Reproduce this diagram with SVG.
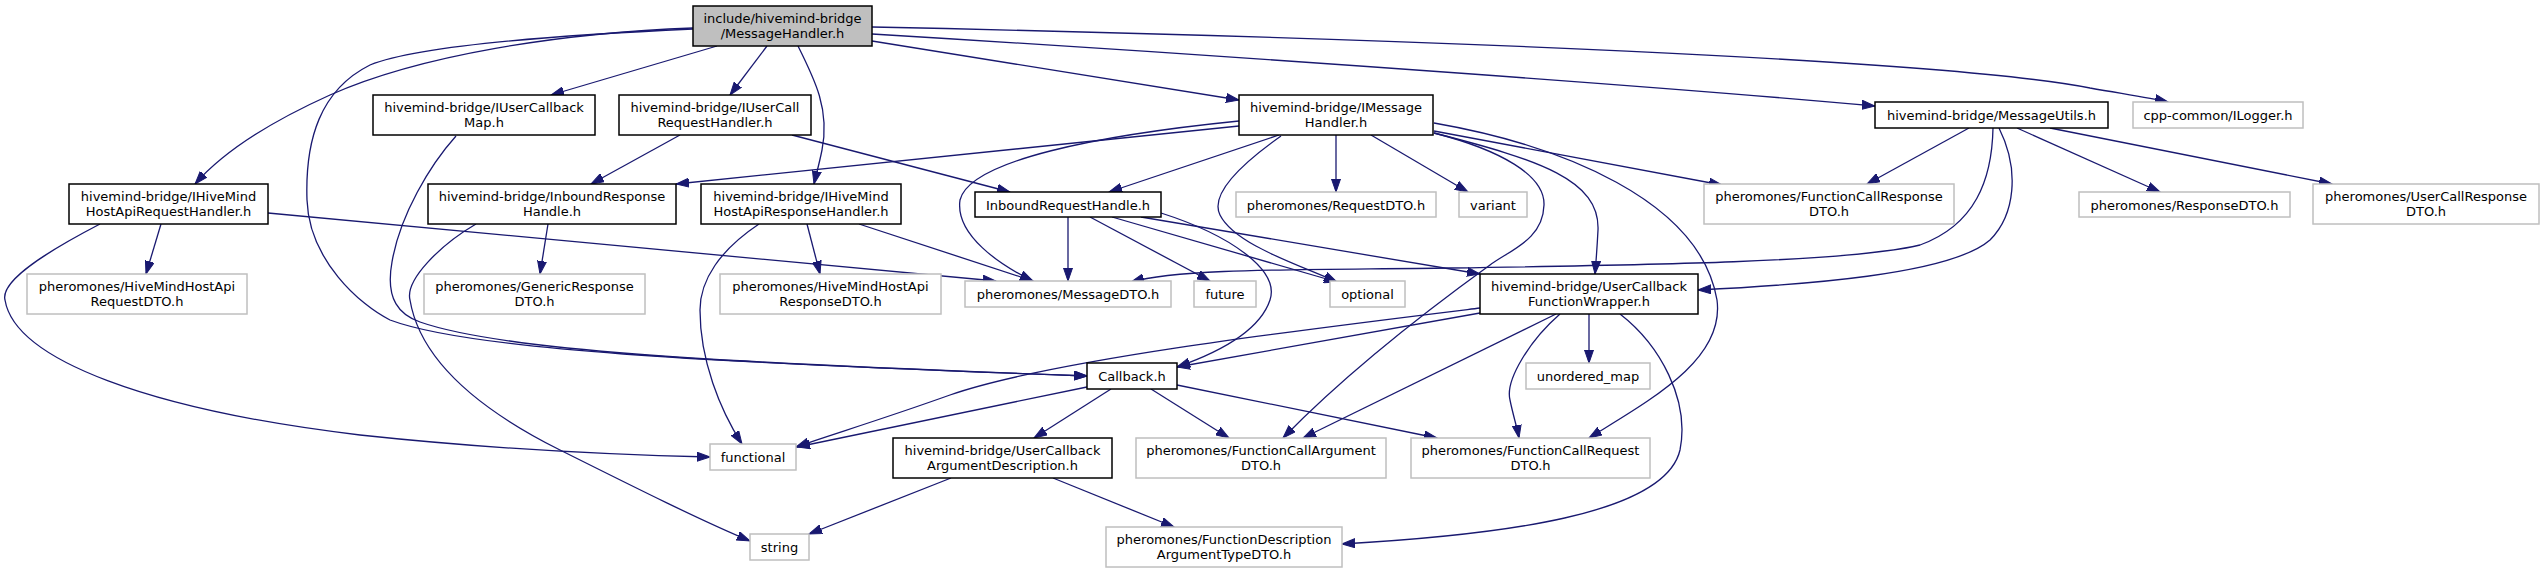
<svg xmlns="http://www.w3.org/2000/svg" width="2544" height="573" viewBox="0 0 2544 573">
<defs>
<marker id="a" markerUnits="userSpaceOnUse" markerWidth="14" markerHeight="10" refX="13" refY="5" orient="auto" viewBox="0 0 14 10"><path d="M0,0.5 L13,5 L0,9.5 z" fill="#191970" stroke="#191970" stroke-width="1"/></marker>
<style>
.n rect{fill:#fff;stroke:#000;stroke-width:1.5}
.g rect{fill:#fff;stroke:#bfbfbf;stroke-width:1.5}
.m rect{fill:#bfbfbf;stroke:#000;stroke-width:1.5}
text{font-family:"DejaVu Sans",sans-serif;font-size:13px;fill:#000;text-anchor:middle}
#edges path{fill:none;stroke:#191970;stroke-width:1.3;marker-end:url(#a)}
</style>
</defs>
<rect width="2544" height="573" fill="#fff"/>
<g id="edges">
<path d="M693,28 C560,33 420,55 330,95 C270,122 225,150 195,184"/>
<path d="M693,29 C560,35 420,45 370,65 C320,90 305,140 307,200 C309,260 360,305 390,320 C470,350 700,362 1087,376"/>
<path d="M456,136 C430,165 400,215 392,262 C385,300 400,315 420,322 C500,350 700,362 1087,376"/>
<path d="M717,46 L551,95"/>
<path d="M767,46 L730,95"/>
<path d="M798,46 C815,80 830,110 822,150 C819,165 816,175 814,184"/>
<path d="M872,41 L1239,100"/>
<path d="M872,34 C1300,60 1700,90 1875,106"/>
<path d="M872,27 C1400,38 1950,60 2090,88 C2130,95 2150,98 2168,102"/>
<path d="M680,135 L591,184"/>
<path d="M792,135 L1010,192"/>
<path d="M1239,126 L676,184"/>
<path d="M1279,135 L1109,192"/>
<path d="M1239,121 C1100,135 970,160 960,200 C955,235 1000,265 1033,281"/>
<path d="M1336,135 L1336,192"/>
<path d="M1371,135 L1468,192"/>
<path d="M1281,136 C1240,165 1210,195 1220,215 C1235,245 1300,265 1337,282"/>
<path d="M1434,133 C1540,160 1600,180 1598,230 C1597,250 1596,262 1595,274"/>
<path d="M1434,131 L1722,185"/>
<path d="M1434,133 C1500,150 1545,175 1544,205 C1543,240 1510,250 1490,265 C1400,330 1330,390 1283,438"/>
<path d="M1434,123 C1560,145 1700,200 1717,300 C1725,360 1650,400 1589,438"/>
<path d="M1969,128 L1867,184"/>
<path d="M2017,128 L2160,192"/>
<path d="M2050,128 L2332,184"/>
<path d="M1999,128 C2020,170 2015,215 1990,240 C1950,275 1800,285 1698,290"/>
<path d="M1993,128 C1992,180 1975,225 1920,245 C1850,262 1650,265 1450,268 C1300,270 1180,268 1131,282"/>
<path d="M161,224 L146,274"/>
<path d="M100,224 C50,250 0,280 5,300 C15,360 150,410 360,435 C500,450 620,455 710,457"/>
<path d="M268,213 L996,281"/>
<path d="M548,224 L540,274"/>
<path d="M476,224 C440,245 405,280 410,300 C420,360 480,410 560,450 C640,490 700,520 750,541"/>
<path d="M807,224 L820,274"/>
<path d="M859,224 L1033,281"/>
<path d="M759,224 C720,250 700,280 700,310 C700,360 720,410 742,444"/>
<path d="M1068,217 L1068,281"/>
<path d="M1090,217 L1210,281"/>
<path d="M1112,217 L1337,282"/>
<path d="M1141,217 L1480,274"/>
<path d="M1161,213 C1230,235 1280,270 1270,300 C1260,330 1220,352 1177,367"/>
<path d="M1480,313 L1177,367"/>
<path d="M1480,308 C1300,330 1050,360 950,395 C880,420 830,435 796,447"/>
<path d="M1589,314 L1589,363"/>
<path d="M1556,314 L1303,438"/>
<path d="M1560,314 C1530,340 1505,380 1510,400 C1513,415 1517,427 1519,438"/>
<path d="M1620,314 C1660,345 1690,400 1680,450 C1665,515 1500,535 1342,544"/>
<path d="M1087,387 L797,447"/>
<path d="M1111,389 L1034,438"/>
<path d="M1151,389 L1229,438"/>
<path d="M1177,385 L1437,438"/>
<path d="M951,478 L809,534"/>
<path d="M1053,478 L1174,527"/>
</g>
<g id="n0" class="m"><rect x="693" y="6" width="179" height="40"/><text x="782.5" y="23">include/hivemind-bridge</text><text x="782.5" y="38">/MessageHandler.h</text></g>
<g id="n1" class="n"><rect x="373" y="95" width="222" height="40"/><text x="484" y="112">hivemind-bridge/IUserCallback</text><text x="484" y="127">Map.h</text></g>
<g id="n2" class="n"><rect x="619" y="95" width="192" height="40"/><text x="715" y="112">hivemind-bridge/IUserCall</text><text x="715" y="127">RequestHandler.h</text></g>
<g id="n3" class="n"><rect x="1239" y="95" width="194" height="40"/><text x="1336" y="112">hivemind-bridge/IMessage</text><text x="1336" y="127">Handler.h</text></g>
<g id="n4" class="n"><rect x="1875" y="102" width="233" height="26"/><text x="1991.5" y="120">hivemind-bridge/MessageUtils.h</text></g>
<g id="n5" class="g"><rect x="2133" y="102" width="170" height="26"/><text x="2218" y="120">cpp-common/ILogger.h</text></g>
<g id="n6" class="n"><rect x="69" y="184" width="199" height="40"/><text x="168.5" y="201">hivemind-bridge/IHiveMind</text><text x="168.5" y="216">HostApiRequestHandler.h</text></g>
<g id="n7" class="n"><rect x="428" y="184" width="248" height="40"/><text x="552" y="201">hivemind-bridge/InboundResponse</text><text x="552" y="216">Handle.h</text></g>
<g id="n8" class="n"><rect x="701" y="184" width="200" height="40"/><text x="801" y="201">hivemind-bridge/IHiveMind</text><text x="801" y="216">HostApiResponseHandler.h</text></g>
<g id="n9" class="n"><rect x="975" y="192" width="186" height="25"/><text x="1068" y="209.5">InboundRequestHandle.h</text></g>
<g id="n10" class="g"><rect x="1236" y="192" width="200" height="25"/><text x="1336" y="209.5">pheromones/RequestDTO.h</text></g>
<g id="n11" class="g"><rect x="1459" y="192" width="68" height="25"/><text x="1493" y="209.5">variant</text></g>
<g id="n12" class="g"><rect x="1704" y="184" width="250" height="40"/><text x="1829" y="201">pheromones/FunctionCallResponse</text><text x="1829" y="216">DTO.h</text></g>
<g id="n13" class="g"><rect x="2079" y="192" width="211" height="25"/><text x="2184.5" y="209.5">pheromones/ResponseDTO.h</text></g>
<g id="n14" class="g"><rect x="2313" y="184" width="226" height="40"/><text x="2426" y="201">pheromones/UserCallResponse</text><text x="2426" y="216">DTO.h</text></g>
<g id="n15" class="g"><rect x="27" y="274" width="220" height="40"/><text x="137" y="291">pheromones/HiveMindHostApi</text><text x="137" y="306">RequestDTO.h</text></g>
<g id="n16" class="g"><rect x="424" y="274" width="221" height="40"/><text x="534.5" y="291">pheromones/GenericResponse</text><text x="534.5" y="306">DTO.h</text></g>
<g id="n17" class="g"><rect x="720" y="274" width="221" height="40"/><text x="830.5" y="291">pheromones/HiveMindHostApi</text><text x="830.5" y="306">ResponseDTO.h</text></g>
<g id="n18" class="g"><rect x="965" y="281" width="206" height="26"/><text x="1068" y="299">pheromones/MessageDTO.h</text></g>
<g id="n19" class="g"><rect x="1194" y="281" width="62" height="26"/><text x="1225" y="299">future</text></g>
<g id="n20" class="g"><rect x="1330" y="281" width="75" height="26"/><text x="1367.5" y="299">optional</text></g>
<g id="n21" class="n"><rect x="1480" y="274" width="218" height="40"/><text x="1589" y="291">hivemind-bridge/UserCallback</text><text x="1589" y="306">FunctionWrapper.h</text></g>
<g id="n22" class="n"><rect x="1087" y="363" width="90" height="26"/><text x="1132" y="381">Callback.h</text></g>
<g id="n23" class="g"><rect x="1526" y="363" width="124" height="26"/><text x="1588" y="381">unordered_map</text></g>
<g id="n24" class="g"><rect x="710" y="444" width="86" height="26"/><text x="753" y="462">functional</text></g>
<g id="n25" class="n"><rect x="893" y="438" width="219" height="40"/><text x="1002.5" y="455">hivemind-bridge/UserCallback</text><text x="1002.5" y="470">ArgumentDescription.h</text></g>
<g id="n26" class="g"><rect x="1136" y="438" width="250" height="40"/><text x="1261" y="455">pheromones/FunctionCallArgument</text><text x="1261" y="470">DTO.h</text></g>
<g id="n27" class="g"><rect x="1411" y="438" width="239" height="40"/><text x="1530.5" y="455">pheromones/FunctionCallRequest</text><text x="1530.5" y="470">DTO.h</text></g>
<g id="n28" class="g"><rect x="750" y="534" width="59" height="26"/><text x="779.5" y="552">string</text></g>
<g id="n29" class="g"><rect x="1106" y="527" width="236" height="40"/><text x="1224" y="544">pheromones/FunctionDescription</text><text x="1224" y="559">ArgumentTypeDTO.h</text></g>
</svg>
